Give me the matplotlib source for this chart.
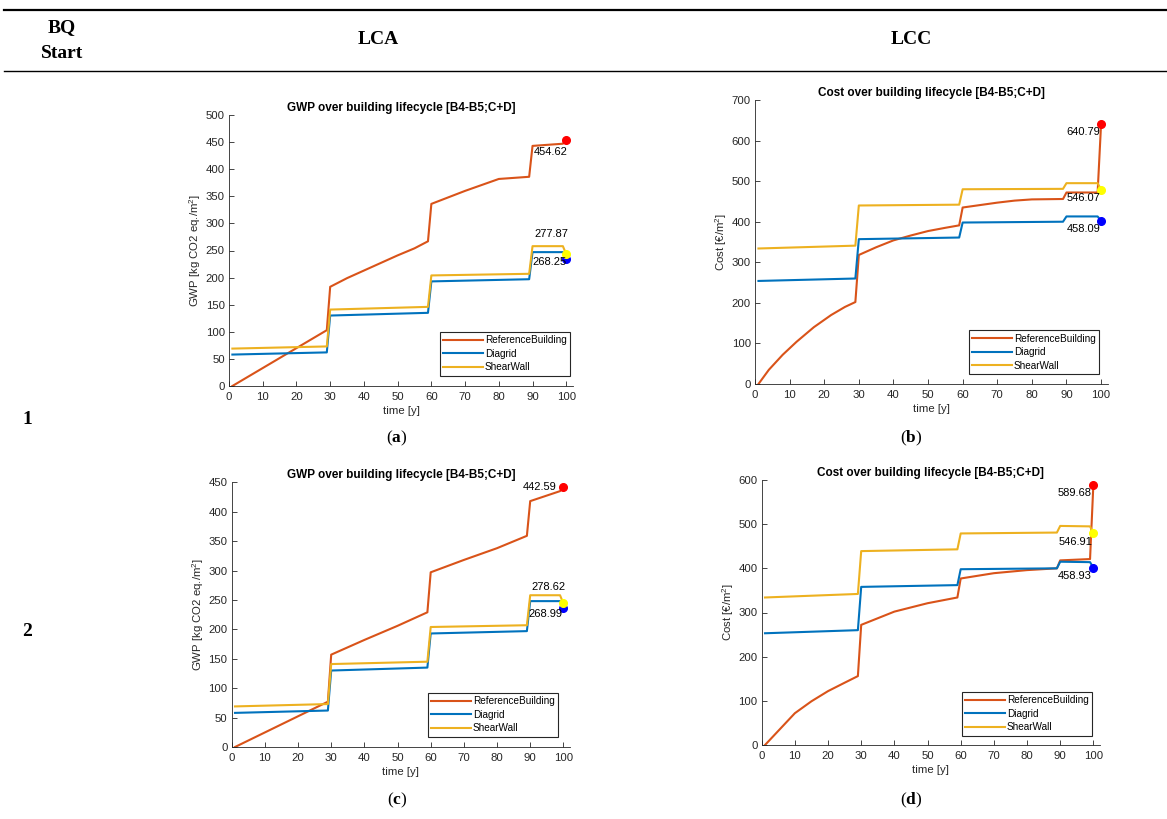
import matplotlib
matplotlib.use('Agg')
import matplotlib.pyplot as plt
from matplotlib.lines import Line2D

plt.rcParams['font.family'] = ['Liberation Sans', 'DejaVu Sans']
plt.rcParams['mathtext.fontset'] = 'custom'
plt.rcParams['mathtext.rm'] = 'Liberation Sans'
plt.rcParams['mathtext.bf'] = 'Liberation Serif:bold'

W, H = 1167, 819
GREY = '#262626'

series_names = ['ReferenceBuilding', 'Diagrid', 'ShearWall']
line_colors = ['#D95319', '#0072BD', '#EDB120']
end_colors = ['#FF0000', '#0000FF', '#FFFF00']

# shared breakpoints for the stepped alternatives (years)
step_t = [1, 29, 30, 59, 60, 89, 90, 99, 100]

# (a) LCA, BQ start 1  -- GWP [kg CO2 eq./m2]
a_ref_t = [1, 29, 30, 35, 40, 45, 50, 55, 59, 60, 70, 80, 89, 90, 99, 100]
a_ref_v = [0, 103, 183, 199, 213, 227, 241, 254, 267, 336, 360, 382, 386, 443, 447, 454.6]
a_dia_v = [58, 62, 130, 135, 193, 197, 247, 247, 235]
a_shw_v = [69, 73, 141, 146, 204, 207, 258, 258, 243]
a_labels = ['454.62', '277.87', '268.25']

# (b) LCC, BQ start 1  -- Cost [EUR/m2]
b_ref_t = [1, 4, 8, 12, 17, 22, 26, 29, 30, 35, 40, 45, 50, 55, 59, 60, 65, 70, 75, 80, 89, 90, 99, 100]
b_ref_v = [0, 35, 72, 104, 140, 170, 190, 202, 318, 337, 354, 366, 377, 385, 391, 435, 441, 447, 452, 455, 456, 472, 472, 640.8]
b_dia_v = [254, 260, 357, 361, 398, 400, 413, 413, 402]
b_shw_v = [334, 341, 440, 442, 480, 481, 495, 495, 479]
b_labels = ['640.79', '546.07', '458.09']

# (c) LCA, BQ start 2
c_ref_t = [1, 29, 30, 40, 50, 59, 60, 70, 80, 89, 90, 99, 100]
c_ref_v = [0, 77, 157, 182, 206, 229, 297, 318, 338, 359, 418, 435, 442.6]
c_dia_v = [58, 62, 130, 135, 193, 197, 248, 248, 236]
c_shw_v = [69, 73, 141, 145, 204, 207, 258, 258, 244]
c_labels = ['442.59', '278.62', '268.99']

# (d) LCC, BQ start 2
d_ref_t = [1, 5, 10, 15, 20, 25, 29, 30, 40, 50, 59, 60, 70, 80, 89, 90, 99, 100]
d_ref_v = [0, 32, 72, 99, 122, 141, 156, 272, 302, 321, 334, 377, 389, 396, 400, 418, 421, 589.7]
d_dia_v = [253, 260, 358, 362, 398, 400, 415, 414, 401.5]
d_shw_v = [334, 342, 439, 443, 479, 481, 496, 495, 479]
d_labels = ['589.68', '546.91', '458.93']

fig = plt.figure(figsize=(W / 100, H / 100), dpi=100)


def fx(px):
    return px / W


def fy(py):
    return 1 - py / H


def panel(rect, ref_t, ref_v, dia_v, shw_v, labels, label_pos, ylim, ystep,
          title, ylabel, leg_anchor):
    ax = fig.add_axes(rect)
    data = [(ref_t, ref_v), (step_t, dia_v), (step_t, shw_v)]
    for (t, v), name, c in zip(data, series_names, line_colors):
        ax.plot(t, v, color=c, lw=1.5, label=name, zorder=2)
    for (t, v), c in zip(data, end_colors):
        ax.plot(t[-1], v[-1], 'o', color=c, ms=5.5, mec=c, zorder=3)
    for s, (x, y) in zip(labels, label_pos):
        ax.text(x, y, s, ha='right', va='center', fontsize=8, color='black')

    ax.set_xlim(0, 102)
    ax.set_ylim(*ylim)
    ax.set_xticks(range(0, 101, 10))
    ax.set_yticks(range(0, ylim[1] + 1, ystep))
    for side in ['top', 'right']:
        ax.spines[side].set_visible(False)
    for side in ['left', 'bottom']:
        ax.spines[side].set_linewidth(0.6)
        ax.spines[side].set_color(GREY)
    ax.tick_params(direction='in', length=3.5, width=0.6, labelsize=8.2,
                   colors=GREY, pad=3)
    ax.tick_params(axis='x', pad=4.5)
    ax.set_title(title, fontsize=8.5, fontweight='bold', pad=3)
    ax.set_xlabel('time [y]', fontsize=8.2, color=GREY, labelpad=3)
    ax.set_ylabel(ylabel, fontsize=8.2, color=GREY, labelpad=2)
    leg = ax.legend(loc='lower right', bbox_to_anchor=leg_anchor, fontsize=7.2,
                    frameon=True, fancybox=False, edgecolor=GREY,
                    handlelength=4.0, handletextpad=0.15, borderpad=0.35,
                    labelspacing=0.35, borderaxespad=0)
    leg.get_frame().set_linewidth(0.8)
    leg.get_frame().set_alpha(1)
    return ax


gwp_label = 'GWP [kg CO2 eq./m$^2$]'
cost_label = 'Cost [€/m$^2$]'
gwp_title = 'GWP over building lifecycle [B4-B5;C+D]'
cost_title = 'Cost over building lifecycle [B4-B5;C+D]'

panel([fx(229), fy(386), fx(573 - 229), (386 - 115) / H],
      a_ref_t, a_ref_v, a_dia_v, a_shw_v, a_labels,
      [(100.5, 432), (100.5, 280), (100.2, 229)],
      (0, 500), 50, gwp_title, gwp_label, (0.991, 0.037))
panel([fx(755), fy(384), fx(1108 - 755), (384 - 100) / H],
      b_ref_t, b_ref_v, b_dia_v, b_shw_v, b_labels,
      [(99.8, 621), (99.8, 458), (99.8, 382)],
      (0, 700), 100, cost_title, cost_label, (0.975, 0.035))
panel([fx(231.7), fy(747), fx(570 - 231.7), (747 - 482.3) / H],
      c_ref_t, c_ref_v, c_dia_v, c_shw_v, c_labels,
      [(97.8, 442), (100.7, 272.5), (99.7, 225.6)],
      (0, 450), 50, gwp_title, gwp_label, (0.965, 0.039))
panel([fx(761.7), fy(745), fx(1100 - 761.7), (745 - 480) / H],
      d_ref_t, d_ref_v, d_dia_v, d_shw_v, d_labels,
      [(99.6, 571), (99.6, 459.6), (99.6, 383)],
      (0, 600), 100, cost_title, cost_label, (0.977, 0.034))

# table frame and headings
fig.add_artist(Line2D([fx(4), 1], [fy(10), fy(10)], lw=1.6, color='black'))
fig.add_artist(Line2D([fx(4), 1], [fy(71), fy(71)], lw=1.0, color='black'))

serif = dict(family='Liberation Serif', fontweight='bold', ha='center',
             va='center', fontsize=14)
fig.text(fx(62), fy(28), 'BQ', **serif)
fig.text(fx(62), fy(53), 'Start', **serif)
fig.text(fx(378), fy(40), 'LCA', **serif)
fig.text(fx(911), fy(40), 'LCC', **serif)
fig.text(fx(27), fy(420), '1', **serif)
fig.text(fx(27), fy(631), '2', **serif)

sub = dict(family='Liberation Serif', ha='center', va='center', fontsize=12.5)
fig.text(fx(397), fy(438), r'($\mathbf{a}$)', **sub)
fig.text(fx(911), fy(438), r'($\mathbf{b}$)', **sub)
fig.text(fx(397), fy(800), r'($\mathbf{c}$)', **sub)
fig.text(fx(911), fy(800), r'($\mathbf{d}$)', **sub)

fig.savefig('out.png', dpi=100)
